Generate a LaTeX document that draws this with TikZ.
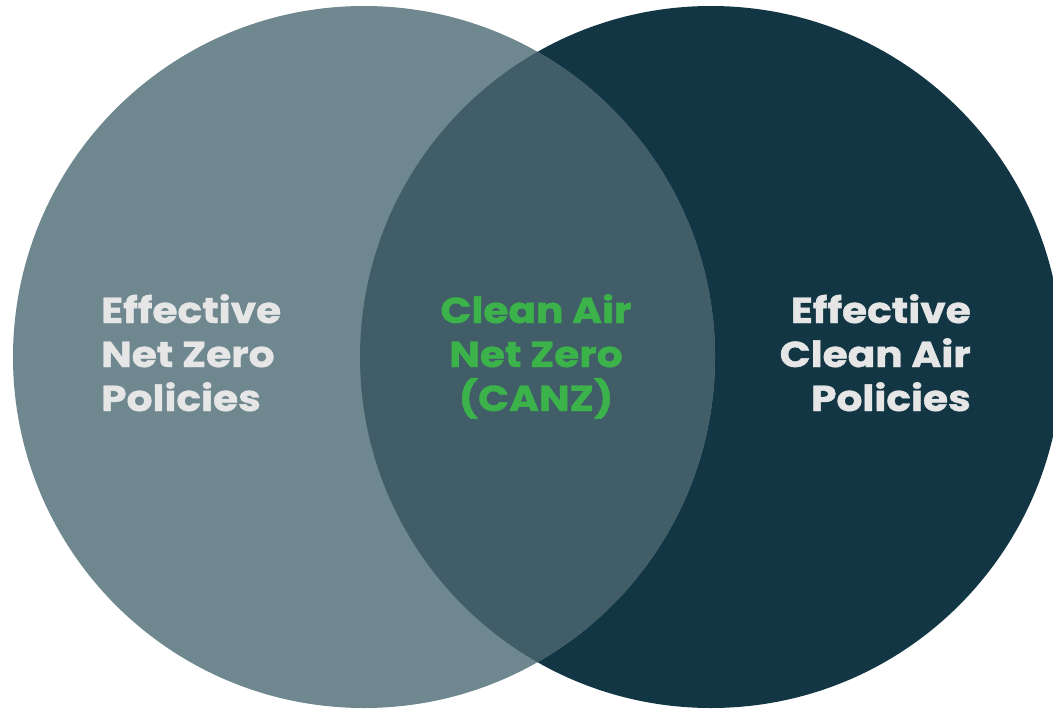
\documentclass[tikz,border=0pt]{standalone}
\usepackage{fontspec}
\setmainfont{Poppins}[BoldFont={Poppins Bold}, BoldFeatures={FakeStretch=1.13, FakeBold=1.2}]
\begin{document}
\begin{tikzpicture}[x=1pt,y=-1pt,
  lbl/.style={inner sep=0pt, font=\fontsize{36}{44}\selectfont\bfseries},
  whitelbl/.style={lbl, text=lighttext},
  greenlbl/.style={lbl, text=canzgreen}]
\definecolor{leftc}{HTML}{6F878F}
\definecolor{rightc}{HTML}{123644}
\definecolor{overc}{HTML}{405D68}
\definecolor{lighttext}{HTML}{E6E6E6}
\definecolor{canzgreen}{HTML}{3BB34A}
\useasboundingbox (0,0) rectangle (1053,710);
\fill[white] (0,0) rectangle (1053,710);
\begin{scope}
\clip (0,0) rectangle (1053,710);
\fill[rightc] (711,357) circle[radius=351];
\fill[leftc] (364,357) circle[radius=351];
\begin{scope}
\clip (711,357) circle[radius=351];
\fill[overc] (364,357) circle[radius=351];
\end{scope}
\end{scope}
\node[whitelbl, align=left, anchor=base west] (nz) at (101,411) {Effective\\Net Zero\\Policies};
\node[greenlbl, align=center, anchor=base] (canz) at (536,411) {Clean Air\\Net Zero\\(CANZ)};
\node[whitelbl, align=right, anchor=base east] (ca) at (971,411) {Effective\\Clean Air\\Policies};
\end{tikzpicture}
\end{document}
